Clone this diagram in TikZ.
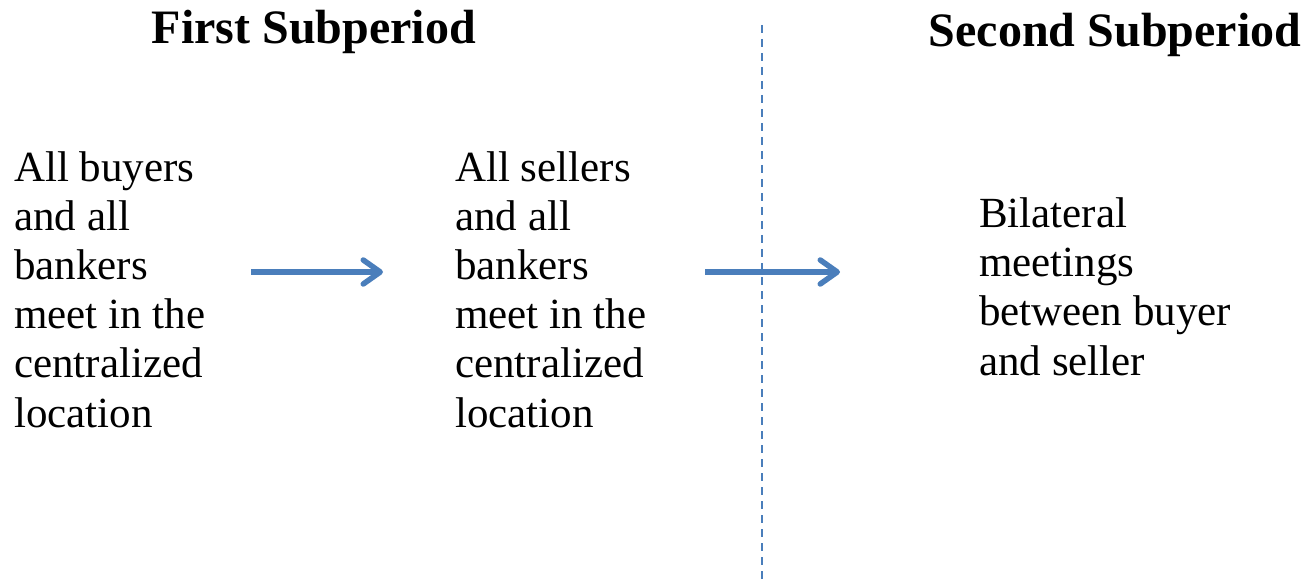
\documentclass[tikz,border=0pt]{standalone}
\usepackage{fontspec}
\setmainfont{Liberation Serif}
\usetikzlibrary{arrows.meta}
\definecolor{pblue}{RGB}{74,126,187}
\begin{document}
\begin{tikzpicture}[x=1pt,y=-1pt,
  title/.style={font=\fontsize{48}{56}\selectfont\bfseries, inner sep=0pt, anchor=base},
  body/.style={font=\fontsize{43}{49.2}\selectfont, inner sep=0pt, anchor=base west, align=left},
  flow/.style={draw=pblue, line width=5.5pt, -{Straight Barb[length=17pt,width=24pt,line cap=round,line join=round]}},
  divider/.style={draw=pblue, line width=2pt, dash pattern=on 8pt off 6pt}]
\useasboundingbox (0,0) rectangle (1312,580);
\node[title] (t1) at (314,44) {First Subperiod};
\node[title] (t2) at (1115,47) {Second Subperiod};
\node[body] (b1) at (14,427) {All buyers\\and all\\bankers\\meet in the\\centralized\\location};
\node[body] (b2) at (455,427) {All sellers\\and all\\bankers\\meet in the\\centralized\\location};
\node[body] (b3) at (979,375) {Bilateral\\meetings\\between buyer\\and seller};
\coordinate (d1) at (762,25);
\coordinate (d2) at (762,580);
\coordinate (a1s) at (251,272);
\coordinate (a1e) at (383,272);
\coordinate (a2s) at (705,272);
\coordinate (a2e) at (840,272);
\draw[divider] (d1) -- (d2);
\draw[flow] (a1s) -- (a1e);
\draw[flow] (a2s) -- (a2e);
\end{tikzpicture}
\end{document}
